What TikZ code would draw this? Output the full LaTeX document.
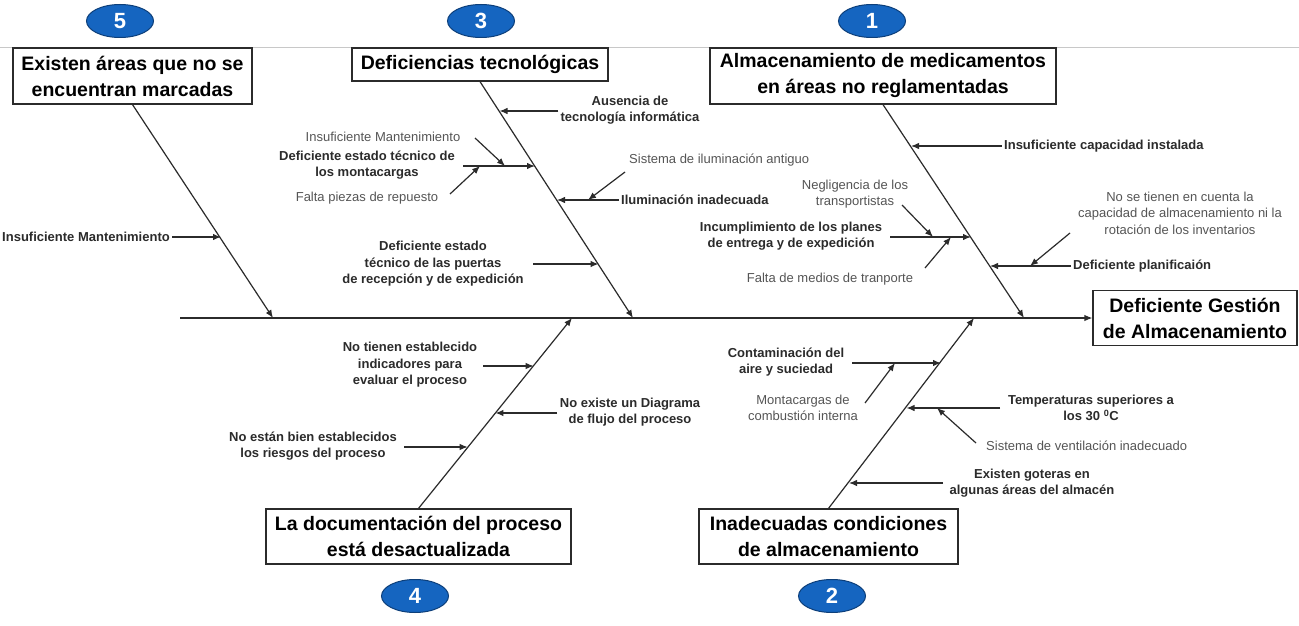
\documentclass[tikz,border=0pt]{standalone}
\usepackage{fontspec}
\setmainfont{Liberation Sans}
\usetikzlibrary{arrows.meta,shapes.geometric}
\definecolor{ink}{HTML}{2B2B2B}
\definecolor{graytxt}{HTML}{555555}
\definecolor{badgeblue}{HTML}{1565C0}
\definecolor{badgeedge}{HTML}{0D3F7A}
\definecolor{topline}{HTML}{C8C8C8}
\begin{document}
\begin{tikzpicture}[x=1pt,y=-1pt,
  arr/.style={draw=ink,line width=1.2pt,-{Latex[length=8pt,width=6.5pt]}},
  catbox/.style={draw=ink,line width=1.2pt,fill=white,align=center,font=\fontsize{19.5}{26}\selectfont\bfseries,inner sep=0pt},
  lab/.style={align=center,font=\fontsize{13}{16.5}\selectfont\bfseries,text=ink,inner sep=2pt},
  glab/.style={align=center,font=\fontsize{13}{16.5}\selectfont,text=graytxt,inner sep=2pt},
  badge/.style={ellipse,fill=badgeblue,draw=badgeedge,line width=1pt,minimum width=67pt,minimum height=33pt,inner sep=0pt,text=white,font=\fontsize{22}{22}\selectfont\bfseries}
]
\fill[white] (0,0) rectangle (1299,626);
\useasboundingbox (0,0) rectangle (1299,626);
\draw[topline,line width=1pt] (0,48) -- (1299,48);

% badges
\node[badge] (n5) at (120,21) {5};
\node[badge] (n3) at (481,21) {3};
\node[badge] (n1) at (872,21) {1};
\node[badge] (n4) at (415,596) {4};
\node[badge] (n2) at (832,596) {2};

% category boxes
\node[catbox,minimum width=239pt,minimum height=56pt] (box5) at (132.5,76) {Existen áreas que no se\\encuentran marcadas};
\node[catbox,minimum width=256pt,minimum height=33pt] (box3) at (480,64.5) {Deficiencias tecnológicas};
\node[catbox,minimum width=346pt,minimum height=56pt] (box1) at (883,76) {Almacenamiento de medicamentos\\en áreas no reglamentadas};
\node[catbox,minimum width=305pt,minimum height=55pt] (box4) at (418.5,536.5) {La documentación del proceso\\está desactualizada};
\node[catbox,minimum width=259pt,minimum height=55pt] (box2) at (828.5,536.5) {Inadecuadas condiciones\\de almacenamiento};
\node[catbox,minimum width=204pt,minimum height=55pt] (effect) at (1195,318) {Deficiente Gestión\\de Almacenamiento};

% spine and bones
\coordinate (spine) at (180,318);
\coordinate (b5e) at (273,318);
\coordinate (b3e) at (633,318);
\coordinate (b1e) at (1024,318);
\coordinate (b4e) at (572,318);
\coordinate (b2e) at (974,318);
\draw[arr] (spine) -- (effect.west);
\draw[arr] (box5.south) -- (b5e);
\draw[arr] (box3.south) -- (b3e);
\draw[arr] (box1.south) -- (b1e);
\draw[arr] (box4.north) -- (b4e);
\draw[arr] (box2.north) -- (b2e);

% ---- branch 5
\node[lab,anchor=east] (l5a) at (172,237) {Insuficiente Mantenimiento};
\coordinate (p5a) at (221,237);
\draw[arr] (l5a.east) -- (p5a);

% ---- branch 3
\node[lab] (l3a) at (630,110) {Ausencia de\\tecnología informática};
\coordinate (p3a) at (499.5,111);
\draw[arr] (l3a.west |- p3a) -- (p3a);

\node[lab] (l3b) at (367,165) {Deficiente estado técnico de\\los montacargas};
\coordinate (s3b) at (463,166);
\coordinate (p3b) at (535,166);
\draw[arr] (s3b) -- (p3b);
\node[glab] (g3b1) at (383,137) {Insuficiente Mantenimiento};
\coordinate (g3b1s) at (475,138);
\coordinate (g3b1e) at (505,166);
\draw[arr] (g3b1s) -- (g3b1e);
\node[glab] (g3b2) at (367,198) {Falta piezas de repuesto};
\coordinate (g3b2s) at (450,194);
\coordinate (g3b2e) at (480,166);
\draw[arr] (g3b2s) -- (g3b2e);

\node[lab,anchor=west] (l3c) at (619,200) {Iluminación inadecuada};
\coordinate (p3c) at (557,200);
\draw[arr] (l3c.west) -- (p3c);
\node[glab,anchor=west] (g3c) at (627,160) {Sistema de iluminación antiguo};
\coordinate (g3cs) at (625,172);
\coordinate (g3ce) at (588,200);
\draw[arr] (g3cs) -- (g3ce);

\node[lab] (l3d) at (433,264) {Deficiente estado\\técnico de las puertas\\de recepción y de expedición};
\coordinate (s3d) at (533,264);
\coordinate (p3d) at (598.6,264);
\draw[arr] (s3d) -- (p3d);

% ---- branch 1
\node[lab,anchor=west] (l1a) at (1002,146) {Insuficiente capacidad instalada};
\coordinate (p1a) at (911,146);
\draw[arr] (l1a.west) -- (p1a);

\node[lab] (l1b) at (791,236) {Incumplimiento de los planes\\de entrega y de expedición};
\coordinate (s1b) at (890,237);
\coordinate (p1b) at (971,237);
\draw[arr] (s1b) -- (p1b);
\node[glab] (g1b1) at (855,194) {Negligencia de los\\transportistas};
\coordinate (g1b1s) at (902,205);
\coordinate (g1b1e) at (933,237);
\draw[arr] (g1b1s) -- (g1b1e);
\node[glab] (g1b2) at (830,279) {Falta de medios de tranporte};
\coordinate (g1b2s) at (925,268);
\coordinate (g1b2e) at (951,237);
\draw[arr] (g1b2s) -- (g1b2e);

\node[lab,anchor=west] (l1c) at (1071,266) {Deficiente planificaión};
\coordinate (p1c) at (990,266);
\draw[arr] (l1c.west) -- (p1c);
\node[glab] (g1c) at (1180,213) {No se tienen en cuenta la\\capacidad de almacenamiento ni la\\rotación de los inventarios};
\coordinate (g1cs) at (1070,233);
\coordinate (g1ce) at (1030,266);
\draw[arr] (g1cs) -- (g1ce);

% ---- branch 4
\node[lab] (l4a) at (410,365) {No tienen establecido\\indicadores para\\evaluar el proceso};
\coordinate (s4a) at (483,366);
\coordinate (p4a) at (533.7,366);
\draw[arr] (s4a) -- (p4a);

\node[lab] (l4b) at (630,412) {No existe un Diagrama\\de flujo del proceso};
\coordinate (s4b) at (557,413);
\coordinate (p4b) at (495.4,413);
\draw[arr] (s4b) -- (p4b);

\node[lab] (l4c) at (313,446) {No están bien establecidos\\los riesgos del proceso};
\coordinate (s4c) at (404,447);
\coordinate (p4c) at (467.7,447);
\draw[arr] (s4c) -- (p4c);

% ---- branch 2
\node[lab] (l2a) at (786,362) {Contaminación del\\aire y suciedad};
\coordinate (s2a) at (852,363);
\coordinate (p2a) at (941,363);
\draw[arr] (s2a) -- (p2a);
\node[glab] (g2a) at (803,408) {Montacargas de\\combustión interna};
\coordinate (g2as) at (865,403);
\coordinate (g2ae) at (895,363);
\draw[arr] (g2as) -- (g2ae);

\node[lab] (l2b) at (1091,408) {Temperaturas superiores a\\los 30 \textsuperscript{0}C};
\coordinate (s2b) at (1000,408);
\coordinate (p2b) at (906.5,408);
\draw[arr] (s2b) -- (p2b);
\node[glab,anchor=west] (g2b) at (984,446) {Sistema de ventilación inadecuado};
\coordinate (g2bs) at (976,443);
\coordinate (g2be) at (937,408);
\draw[arr] (g2bs) -- (g2be);

\node[lab] (l2c) at (1032,483) {Existen goteras en\\algunas áreas del almacén};
\coordinate (s2c) at (943,483);
\coordinate (p2c) at (849,483);
\draw[arr] (s2c) -- (p2c);
\end{tikzpicture}
\end{document}
